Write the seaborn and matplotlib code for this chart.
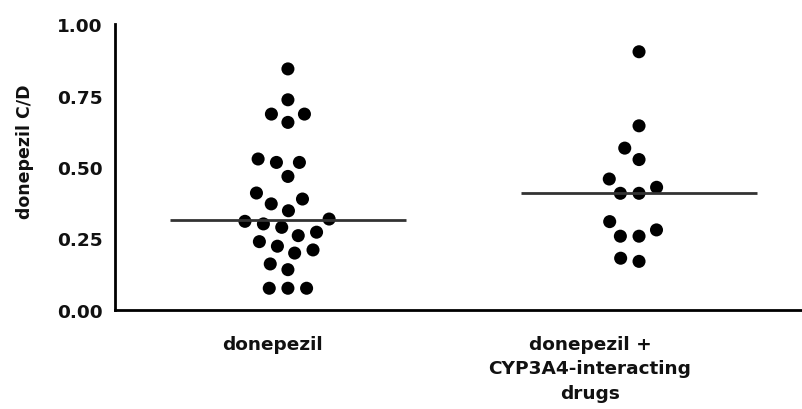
import numpy as np
import pandas as pd
import matplotlib
matplotlib.use("Agg")
import matplotlib.pyplot as plt
import seaborn as sns

# donepezil concentration-to-dose ratios per patient group
donepezil_only = [0.843, 0.735, 0.685, 0.685, 0.656, 0.528, 0.516, 0.516,
                  0.467, 0.409, 0.388, 0.371, 0.347, 0.310, 0.318, 0.289,
                  0.301, 0.272, 0.239, 0.260, 0.210, 0.223, 0.199, 0.161,
                  0.141, 0.076, 0.076, 0.076]
donepezil_cyp3a4 = [0.903, 0.644, 0.566, 0.526, 0.458, 0.429, 0.408, 0.408,
                    0.309, 0.280, 0.258, 0.258, 0.170, 0.181]

groups = ["donepezil", "donepezil +\nCYP3A4-interacting\ndrugs"]
y_ticks = [0.00, 0.25, 0.50, 0.75, 1.00]
y_label = "donepezil C/D"

df = pd.DataFrame({
    "group": [groups[0]] * len(donepezil_only) + [groups[1]] * len(donepezil_cyp3a4),
    "cd": donepezil_only + donepezil_cyp3a4,
})

sns.set_style("white")
plt.rcParams["font.family"] = ["DejaVu Sans"]
plt.rcParams["font.weight"] = "bold"
plt.rcParams["text.color"] = "#111111"
plt.rcParams["axes.labelcolor"] = "#111111"

fig = plt.figure(figsize=(8.03, 4.10), dpi=100)
ax = fig.add_axes([0.143, 0.2415, 0.857, 0.6975])

sns.swarmplot(data=df, x="group", y="cd", order=groups, color="black",
              size=9.4, linewidth=3.4, edgecolor="none", ax=ax, zorder=3)

# median line for each group
for i, g in enumerate(groups):
    med = np.median(df.loc[df["group"] == g, "cd"])
    ax.hlines(med, i - 0.337, i + 0.337, color="#333333", lw=2.0, zorder=4)

ax.set_ylim(0, 1)
ax.set_xlim(-0.493, 1.467)
ax.set_yticks(y_ticks)
ax.set_yticklabels([f"{v:.2f}" for v in y_ticks], fontsize=13.3, fontweight="bold")
ax.set_xticks([-0.045, 0.86])
ax.set_xticklabels(groups, fontsize=13.3, fontweight="bold", linespacing=1.45)
ax.set_xlabel("")
ax.set_ylabel(y_label, fontsize=12.5, fontweight="bold", color="#111111")
ax.yaxis.set_label_coords(-0.118, 0.556)

for side in ["top", "right"]:
    ax.spines[side].set_visible(False)
for side in ["left", "bottom"]:
    ax.spines[side].set_linewidth(2.0)
    ax.spines[side].set_color("black")

ax.tick_params(axis="y", direction="out", length=8, width=2.0, pad=1,
               color="black", labelcolor="#111111")
ax.tick_params(axis="x", length=0, pad=18, labelcolor="#111111")

fig.savefig("out.png", dpi=100)
